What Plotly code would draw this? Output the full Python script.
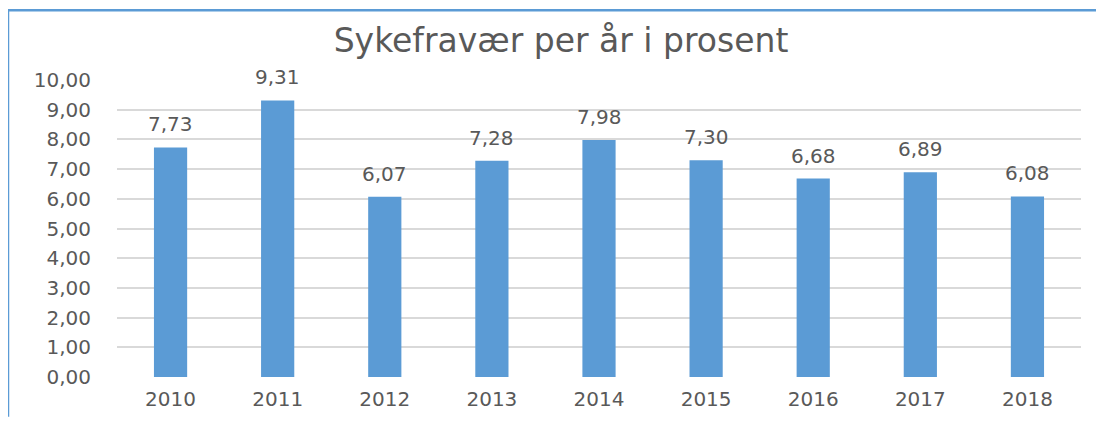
import plotly.graph_objects as go

years = ["2010", "2011", "2012", "2013", "2014", "2015", "2016", "2017", "2018"]
values = [7.73, 9.31, 6.07, 7.28, 7.98, 7.30, 6.68, 6.89, 6.08]
y_ticks = [0, 1, 2, 3, 4, 5, 6, 7, 8, 9, 10]
grid_ticks = [0, 1, 2, 3, 4, 5, 6, 7, 8, 9]
title_text = "Sykefravær per år i prosent"

def fmt(v):
    return f"{v:.2f}".replace(".", ",")

FONT = "DejaVu Sans"
GREY = "#595959"
BLUE = "#5b9bd5"

# page has an 8px body margin; figure coordinates are offset accordingly
W, H = 1096, 415
ml, mr, mt, mb = 109, 23, 72, 36
pw, ph = W - ml - mr, H - mt - mb

fig = go.Figure()
fig.add_trace(go.Bar(x=years, y=values, marker=dict(color=BLUE, line=dict(width=0)),
                     hoverinfo="skip", showlegend=False))
# invisible trace so the label axis is drawn
fig.add_trace(go.Scatter(x=years, y=values, yaxis="y2", mode="none",
                         hoverinfo="skip", showlegend=False))

for i, v in enumerate(values):
    fig.add_annotation(x=i, y=v, xref="x", yref="y", text=fmt(v), showarrow=False,
                       yanchor="bottom", yshift=9,
                       font=dict(family=FONT, size=20, color=GREY))

fig.update_layout(
    width=W, height=H,
    margin=dict(l=ml, r=mr, t=mt, b=mb),
    paper_bgcolor="white", plot_bgcolor="white",
    bargap=0.69,
    title=dict(text=title_text, x=553 / W, xanchor="center",
               y=1 - 32 / H, yanchor="middle",
               font=dict(family=FONT, size=33, color=GREY)),
    xaxis=dict(type="category", showgrid=False, zeroline=False, showline=False, ticks="",
               ticklabelstandoff=8,
               tickfont=dict(family=FONT, size=20, color=GREY)),
    yaxis=dict(range=[0, 10], tickmode="array", tickvals=grid_ticks,
               showticklabels=False,
               showgrid=True, gridcolor="#d9d9d9", gridwidth=1.5,
               zeroline=False, showline=False, ticks=""),
    yaxis2=dict(range=[0, 10], overlaying="y", side="left", anchor="x",
                tickmode="array", tickvals=y_ticks, ticktext=[fmt(t) for t in y_ticks],
                showgrid=False, zeroline=False, showline=False, ticks="",
                ticklabelstandoff=25,
                tickfont=dict(family=FONT, size=20, color=GREY)),
    shapes=[
        dict(type="line", xref="paper", yref="paper",
             x0=(0 - ml) / pw, x1=(0 - ml) / pw, y0=-(mb + 5) / ph, y1=1 + (mt - 0) / ph,
             line=dict(color=BLUE, width=2.5)),
        dict(type="line", xref="paper", yref="paper",
             x0=(0 - ml) / pw, x1=1 + (mr + 5) / pw, y0=1 + (mt - 0) / ph, y1=1 + (mt - 0) / ph,
             line=dict(color=BLUE, width=2.5)),
    ],
)

fig.write_html("out.html")
